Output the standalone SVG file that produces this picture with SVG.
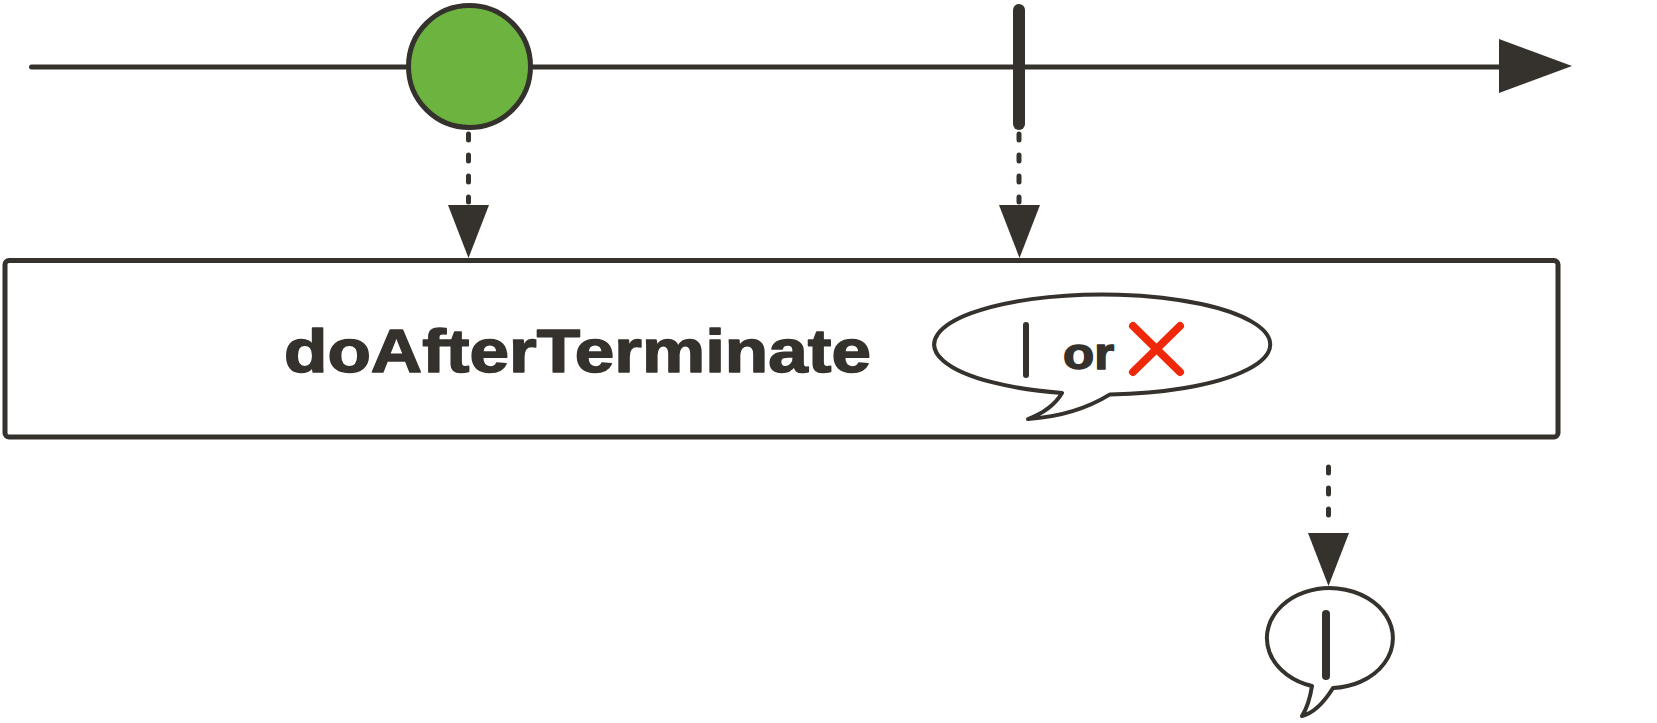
<svg xmlns="http://www.w3.org/2000/svg" width="1657" height="723" viewBox="0 0 1657 723">
<style>
.ink{stroke:#35312c;fill:none}
.dash{stroke:#35312c;stroke-width:5;stroke-linecap:round;stroke-dasharray:6 15;fill:none}
.head{fill:#35312c}
.lbl{font-family:"Liberation Sans",Arial,sans-serif;font-weight:bold;fill:#35312c;stroke:#35312c;stroke-width:1.5;stroke-linejoin:round}
</style>
<rect width="1657" height="723" fill="#ffffff"/>
<g id="timeline">
<line x1="31.5" y1="67" x2="1502" y2="67" class="ink" stroke-width="5" stroke-linecap="round"/>
<polygon points="1499,39 1572,66 1499,93" class="head"/>
</g>
<g id="connectors">
<line x1="468.5" y1="134" x2="468.5" y2="202" class="dash"/>
<polygon points="448,205 489,205 468.5,258" class="head"/>
<line x1="1019" y1="134" x2="1019" y2="202" class="dash"/>
<polygon points="999,205 1040,205 1019.5,258" class="head"/>
<line x1="1328.5" y1="467" x2="1328.5" y2="530" class="dash"/>
<polygon points="1308,533 1349,533 1328.5,586" class="head"/>
</g>
<g id="marble-item">
<circle cx="469.5" cy="66.5" r="61" fill="#6db33f" stroke="#35312c" stroke-width="5"/>
</g>
<g id="marble-complete">
<line x1="1019" y1="10" x2="1019" y2="124" stroke="#35312c" stroke-width="12" stroke-linecap="round"/>
</g>
<g id="operator">
<rect x="5" y="260.5" width="1553" height="176.5" rx="4" class="ink" stroke-width="5" fill="#ffffff"/>
<text x="284" y="371.5" class="lbl" font-size="61" textLength="587" lengthAdjust="spacingAndGlyphs">doAfterTerminate</text>
<path d="M1062,393 A168,50 0 1 1 1110,394.4 Q1075,416 1028,419 Q1052,410 1062,393 Z" class="ink" stroke-width="4" stroke-linejoin="round" fill="#ffffff"/>
<line x1="1026" y1="325" x2="1026" y2="375" stroke="#35312c" stroke-width="6" stroke-linecap="round"/>
<text x="1063" y="369" class="lbl" font-size="45" textLength="51" lengthAdjust="spacingAndGlyphs">or</text>
<g stroke="#f0280a" stroke-width="8" stroke-linecap="round">
<line x1="1133" y1="326" x2="1180" y2="372"/>
<line x1="1180" y1="326" x2="1133" y2="372"/>
</g>
</g>
<g id="output">
<path d="M1312,686 A63,50 0 1 1 1333,688 Q1318,712 1302,716 Q1309,705 1312,686 Z" class="ink" stroke-width="4" stroke-linejoin="round" fill="#ffffff"/>
<line x1="1326" y1="614" x2="1326" y2="676" stroke="#35312c" stroke-width="8" stroke-linecap="round"/>
</g>
</svg>
